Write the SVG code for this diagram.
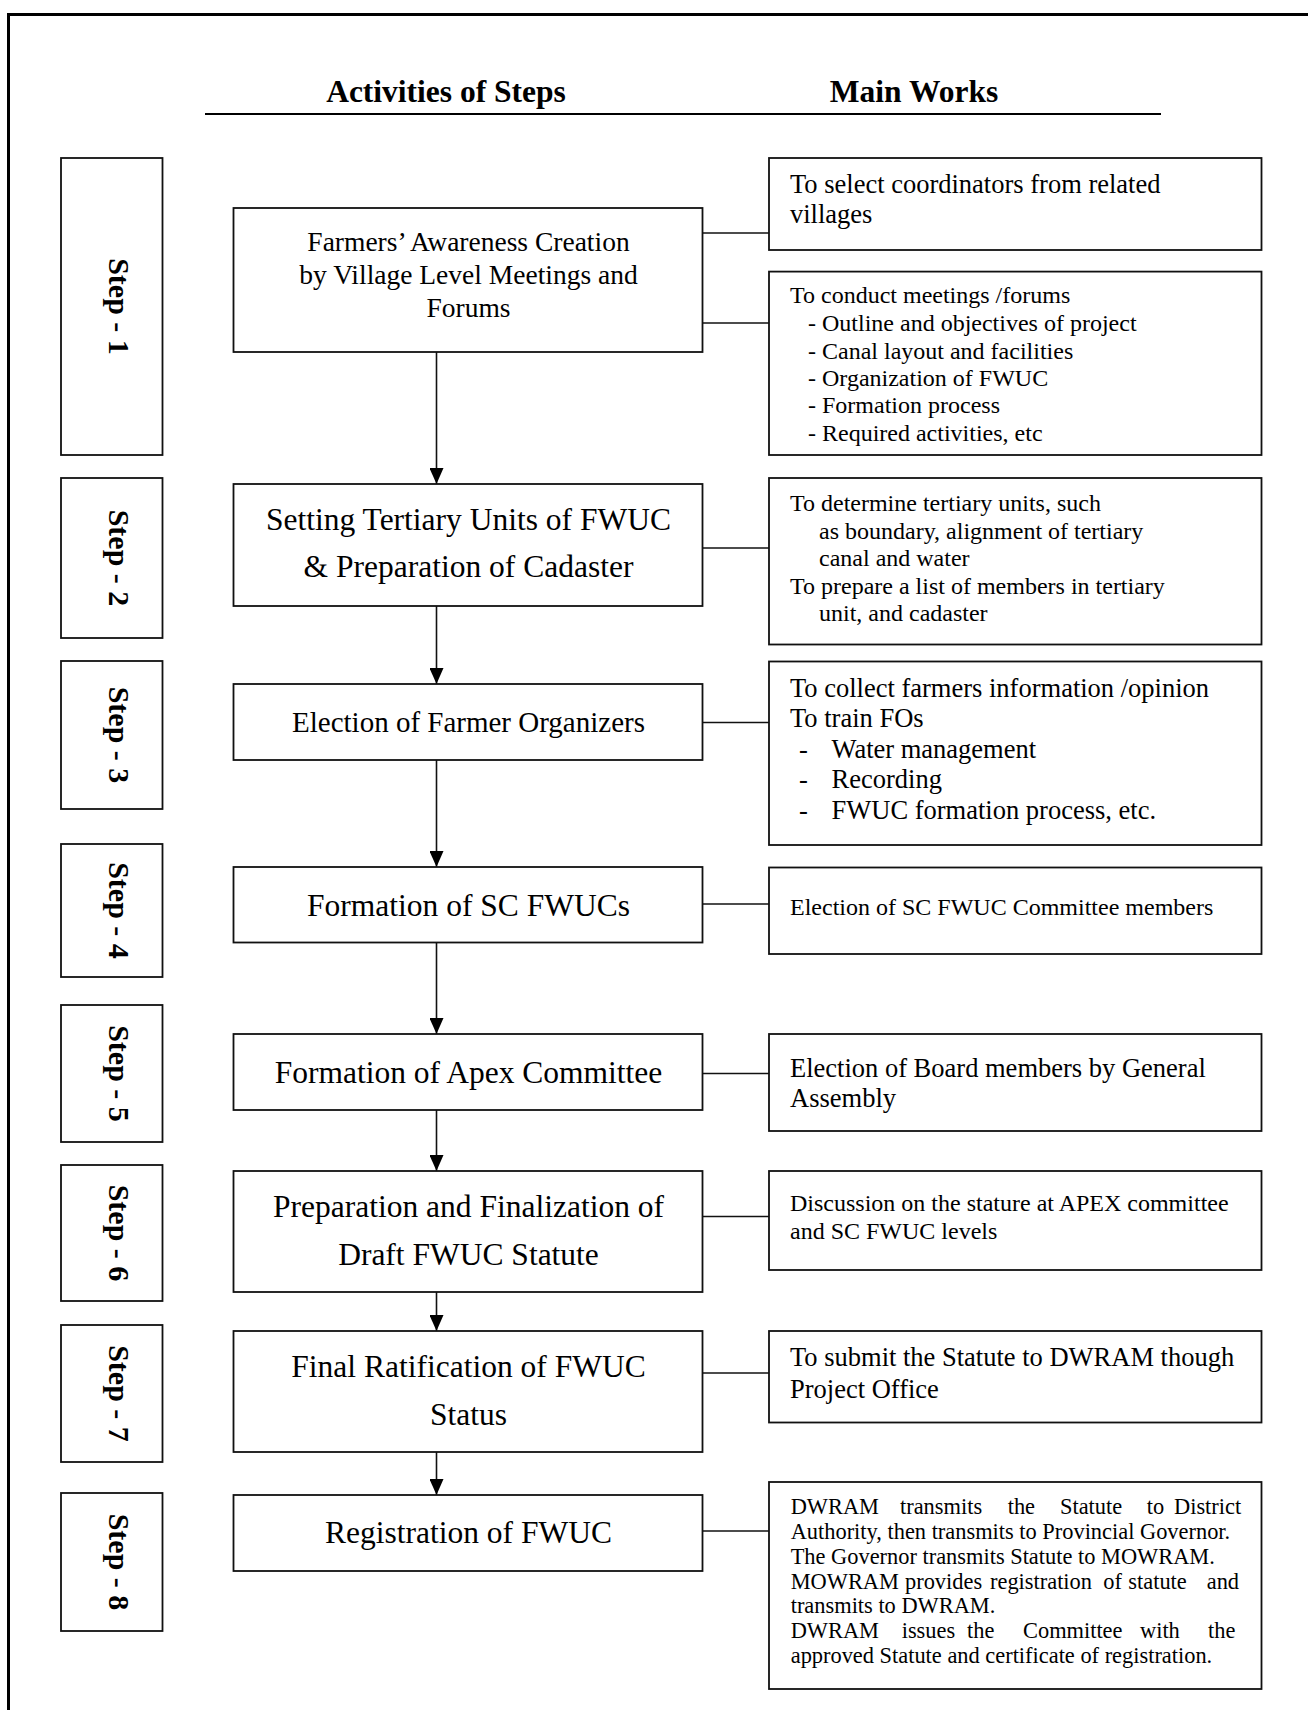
<svg xmlns="http://www.w3.org/2000/svg" width="1308" height="1710" viewBox="0 0 1308 1710">
<style>
  .frame { stroke: #000; stroke-width: 3; fill: none; }
  .box { fill: #fff; stroke: #111; stroke-width: 1.8; }
  .conn { stroke: #111; stroke-width: 1.6; fill: none; }
  text { font-family: "Liberation Serif", "Times New Roman", serif; fill: #000; }
  .hdr { font-size: 31.5px; font-weight: bold; text-anchor: middle; }
  .step { font-size: 30px; font-weight: bold; text-anchor: middle; }
  .act { font-size: 31.5px; text-anchor: middle; }
  .act1 { font-size: 27.5px; text-anchor: middle; }
  .act3 { font-size: 29px; text-anchor: middle; }
  .w24 { font-size: 24px; }
  .w26 { font-size: 26.5px; }
  .w22 { font-size: 22.4px; }
</style>
<defs>
  <marker id="arr" markerUnits="userSpaceOnUse" markerWidth="16" markerHeight="14" viewBox="0 0 16 14" refX="16" refY="7" orient="auto">
    <path d="M0,0 L16,7 L0,14 z" fill="#000"/>
  </marker>
</defs>
<rect width="1308" height="1710" fill="#fff"/>
<g id="frame">
  <line class="frame" x1="7" y1="14.5" x2="1308" y2="14.5"/>
  <line class="frame" x1="8.5" y1="13" x2="8.5" y2="1710"/>
</g>
<g id="header">
  <text class="hdr" x="446" y="102">Activities of Steps</text>
  <text class="hdr" x="914" y="102">Main Works</text>
  <line x1="205" y1="114" x2="1161" y2="114" stroke="#000" stroke-width="2"/>
</g>

<g id="connectors">
  <line class="conn" x1="436.5" y1="352" x2="436.5" y2="484" marker-end="url(#arr)"/>
  <line class="conn" x1="436.5" y1="606" x2="436.5" y2="684" marker-end="url(#arr)"/>
  <line class="conn" x1="436.5" y1="760" x2="436.5" y2="867" marker-end="url(#arr)"/>
  <line class="conn" x1="436.5" y1="942.5" x2="436.5" y2="1034" marker-end="url(#arr)"/>
  <line class="conn" x1="436.5" y1="1110" x2="436.5" y2="1171" marker-end="url(#arr)"/>
  <line class="conn" x1="436.5" y1="1292" x2="436.5" y2="1331" marker-end="url(#arr)"/>
  <line class="conn" x1="436.5" y1="1452" x2="436.5" y2="1495" marker-end="url(#arr)"/>
  <line class="conn" x1="702.5" y1="233" x2="769" y2="233"/>
  <line class="conn" x1="702.5" y1="323" x2="769" y2="323"/>
  <line class="conn" x1="702.5" y1="548" x2="769" y2="548"/>
  <line class="conn" x1="702.5" y1="722.5" x2="769" y2="722.5"/>
  <line class="conn" x1="702.5" y1="904" x2="769" y2="904"/>
  <line class="conn" x1="702.5" y1="1073.5" x2="769" y2="1073.5"/>
  <line class="conn" x1="702.5" y1="1216.5" x2="769" y2="1216.5"/>
  <line class="conn" x1="702.5" y1="1373" x2="769" y2="1373"/>
  <line class="conn" x1="702.5" y1="1531" x2="769" y2="1531"/>
</g>

<g id="step1"><rect class="box" x="61" y="158" width="101.5" height="297"/><text class="step" transform="translate(108.5,306.5) rotate(90)">Step - 1</text></g>
<g id="step2"><rect class="box" x="61" y="478" width="101.5" height="160"/><text class="step" transform="translate(108.5,558) rotate(90)">Step - 2</text></g>
<g id="step3"><rect class="box" x="61" y="661" width="101.5" height="148"/><text class="step" transform="translate(108.5,735) rotate(90)">Step - 3</text></g>
<g id="step4"><rect class="box" x="61" y="844" width="101.5" height="133"/><text class="step" transform="translate(108.5,910.5) rotate(90)">Step - 4</text></g>
<g id="step5"><rect class="box" x="61" y="1005" width="101.5" height="137"/><text class="step" transform="translate(108.5,1073.5) rotate(90)">Step - 5</text></g>
<g id="step6"><rect class="box" x="61" y="1165" width="101.5" height="136"/><text class="step" transform="translate(108.5,1233) rotate(90)">Step - 6</text></g>
<g id="step7"><rect class="box" x="61" y="1325" width="101.5" height="137"/><text class="step" transform="translate(108.5,1393.5) rotate(90)">Step - 7</text></g>
<g id="step8"><rect class="box" x="61" y="1493" width="101.5" height="138"/><text class="step" transform="translate(108.5,1562) rotate(90)">Step - 8</text></g>

<g id="act1"><rect class="box" x="233.5" y="208" width="469" height="144"/>
  <text class="act1"><tspan x="468.5" y="251">Farmers’ Awareness Creation</tspan><tspan x="468.5" y="284">by Village Level Meetings and</tspan><tspan x="468.5" y="317">Forums</tspan></text></g>
<g id="act2"><rect class="box" x="233.5" y="484" width="469" height="122"/>
  <text class="act"><tspan x="468.5" y="530">Setting Tertiary Units of FWUC</tspan><tspan x="468.5" y="577">&amp; Preparation of Cadaster</tspan></text></g>
<g id="act3"><rect class="box" x="233.5" y="684" width="469" height="76"/>
  <text class="act3" x="468.5" y="732">Election of Farmer Organizers</text></g>
<g id="act4"><rect class="box" x="233.5" y="867" width="469" height="75.5"/>
  <text class="act" x="468.5" y="915.5">Formation of SC FWUCs</text></g>
<g id="act5"><rect class="box" x="233.5" y="1034" width="469" height="76"/>
  <text class="act" x="468.5" y="1083">Formation of Apex Committee</text></g>
<g id="act6"><rect class="box" x="233.5" y="1171" width="469" height="121"/>
  <text class="act"><tspan x="468.5" y="1216.5">Preparation and Finalization of</tspan><tspan x="468.5" y="1264.5">Draft FWUC Statute</tspan></text></g>
<g id="act7"><rect class="box" x="233.5" y="1331" width="469" height="121"/>
  <text class="act"><tspan x="468.5" y="1376.5">Final Ratification of FWUC</tspan><tspan x="468.5" y="1424.5">Status</tspan></text></g>
<g id="act8"><rect class="box" x="233.5" y="1495" width="469" height="76"/>
  <text class="act" x="468.5" y="1543">Registration of FWUC</text></g>

<g id="work1a"><rect class="box" x="769" y="158" width="492.5" height="92"/>
  <text class="w26"><tspan x="790" y="192.5">To select coordinators from related</tspan><tspan x="790" y="223">villages</tspan></text></g>
<g id="work1b"><rect class="box" x="769" y="271.6" width="492.5" height="183.4"/>
  <text class="w24"><tspan x="790" y="303">To conduct meetings /forums</tspan><tspan x="808" y="331">- Outline and objectives of project</tspan><tspan x="808" y="358.5">- Canal layout and facilities</tspan><tspan x="808" y="386">- Organization of FWUC</tspan><tspan x="808" y="413">- Formation process</tspan><tspan x="808" y="441">- Required activities, etc</tspan></text></g>
<g id="work2"><rect class="box" x="769" y="478" width="492.5" height="166.5"/>
  <text class="w24"><tspan x="790" y="510.5">To determine tertiary units, such</tspan><tspan x="819" y="539">as boundary, alignment of tertiary</tspan><tspan x="819" y="565.5">canal and water</tspan><tspan x="790" y="593.5">To prepare a list of members in tertiary</tspan><tspan x="819" y="620.5">unit, and cadaster</tspan></text></g>
<g id="work3"><rect class="box" x="769" y="661.5" width="492.5" height="183.5"/>
  <text class="w26"><tspan x="790" y="696.5">To collect farmers information /opinion</tspan><tspan x="790" y="727">To train FOs</tspan><tspan x="799" y="757.5">-</tspan><tspan x="831.5" y="757.5">Water management</tspan><tspan x="799" y="788">-</tspan><tspan x="831.5" y="788">Recording</tspan><tspan x="799" y="819">-</tspan><tspan x="831.5" y="819">FWUC formation process, etc.</tspan></text></g>
<g id="work4"><rect class="box" x="769" y="867.5" width="492.5" height="86.5"/>
  <text class="w24" x="790" y="914.5">Election of SC FWUC Committee members</text></g>
<g id="work5"><rect class="box" x="769" y="1034" width="492.5" height="97"/>
  <text class="w26"><tspan x="790" y="1076.5">Election of Board members by General</tspan><tspan x="790" y="1106.5">Assembly</tspan></text></g>
<g id="work6"><rect class="box" x="769" y="1171" width="492.5" height="99"/>
  <text class="w24"><tspan x="790" y="1210.5">Discussion on the stature at APEX committee</tspan><tspan x="790" y="1239">and SC FWUC levels</tspan></text></g>
<g id="work7"><rect class="box" x="769" y="1331" width="492.5" height="91.5"/>
  <text class="w26"><tspan x="790" y="1366">To submit the Statute to DWRAM though</tspan><tspan x="790" y="1398">Project Office</tspan></text></g>
<g id="work8"><rect class="box" x="769" y="1482" width="492.5" height="207"/>
  <text class="w22">
    <tspan x="790.7" y="1514">DWRAM</tspan><tspan x="900" y="1514">transmits</tspan><tspan x="1007.7" y="1514">the</tspan><tspan x="1060" y="1514">Statute</tspan><tspan x="1146.7" y="1514">to</tspan><tspan x="1174" y="1514">District</tspan>
    <tspan x="790.7" y="1539">Authority, then transmits to Provincial Governor.</tspan>
    <tspan x="790.7" y="1564">The Governor transmits Statute to MOWRAM.</tspan>
    <tspan x="790.7" y="1588.5">MOWRAM</tspan><tspan x="905" y="1588.5">provides</tspan><tspan x="990" y="1588.5">registration</tspan><tspan x="1103.3" y="1588.5">of</tspan><tspan x="1128.3" y="1588.5">statute</tspan><tspan x="1206.7" y="1588.5">and</tspan>
    <tspan x="790.7" y="1613">transmits to DWRAM.</tspan>
    <tspan x="790.7" y="1638">DWRAM</tspan><tspan x="901.7" y="1638">issues</tspan><tspan x="967" y="1638">the</tspan><tspan x="1023" y="1638">Committee</tspan><tspan x="1140" y="1638">with</tspan><tspan x="1208" y="1638">the</tspan>
    <tspan x="790.7" y="1662.5">approved Statute and certificate of registration.</tspan>
  </text></g>
</svg>
